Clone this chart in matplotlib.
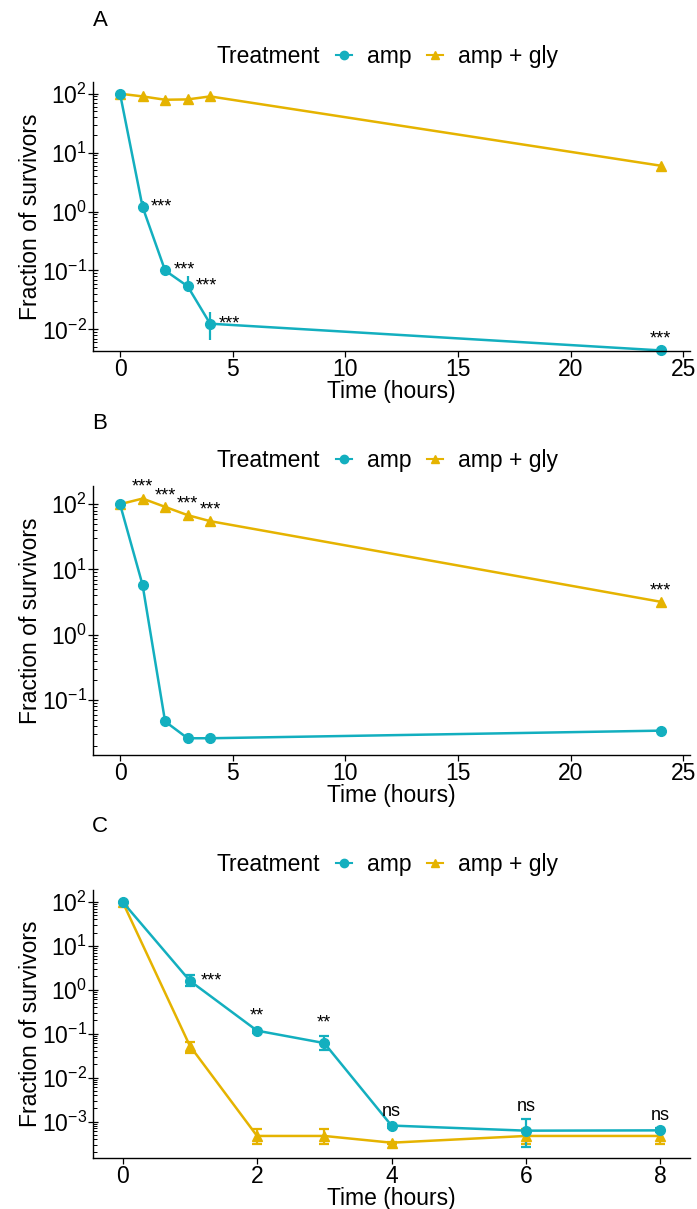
import matplotlib
matplotlib.use("Agg")
import matplotlib.pyplot as plt
from matplotlib.lines import Line2D
from matplotlib.ticker import LogLocator, LogFormatterSciNotation, NullFormatter

plt.rcParams['font.family'] = ['Liberation Sans', 'DejaVu Sans']
plt.rcParams['mathtext.fontset'] = 'custom'
plt.rcParams['mathtext.rm'] = 'Liberation Sans'
plt.rcParams['mathtext.it'] = 'Liberation Sans'

TEAL = "#13AFBF"
GOLD = "#E5B300"

# --------------------------------------------
# Panel A data
# --------------------------------------------
time_a = [0, 1, 2, 3, 4, 24]
amp_a = [100, 1.2, 0.10, 0.054, 0.0125, 0.0044]
amp_a_lo = [100, 0.96, 0.085, 0.044, 0.0065, 0.0044]
amp_a_hi = [100, 1.5, 0.12, 0.081, 0.020, 0.0044]
gly_a = [100, 90, 79, 80, 90, 6.0]
gly_a_lo = [95, 86, 74, 76, 86, 5.4]
gly_a_hi = [105, 94, 84, 84, 94, 6.6]
sig_a = ["", "***", "***", "***", "***", "***"]

# --------------------------------------------
# Panel B data
# --------------------------------------------
time_b = [0, 1, 2, 3, 4, 24]
amp_b = [100, 5.8, 0.047, 0.026, 0.026, 0.034]
gly_b = [100, 122, 91, 68, 55, 3.2]
sig_b = ["", "***", "***", "***", "***", "***"]

# --------------------------------------------
# Panel C data
# --------------------------------------------
time_c = [0, 1, 2, 3, 4, 6, 8]
amp_c = [100, 1.6, 0.117, 0.061, 8.1e-4, 6.2e-4, 6.3e-4]
amp_c_lo = [100, 1.23, 0.105, 0.042, 7.0e-4, 2.7e-4, 5.8e-4]
amp_c_hi = [100, 2.2, 0.13, 0.09, 9.0e-4, 1.13e-3, 7.0e-4]
gly_c = [100, 0.053, 4.7e-4, 4.7e-4, 3.3e-4, 4.7e-4, 4.7e-4]
gly_c_lo = [100, 0.037, 3.1e-4, 3.1e-4, 3.1e-4, 3.1e-4, 3.1e-4]
gly_c_hi = [100, 0.065, 6.6e-4, 6.6e-4, 3.5e-4, 6.6e-4, 6.6e-4]
sig_c = ["", "***", "**", "**", "ns", "ns", "ns"]


def style_axes(ax, xlim, ylim, xticks):
    ax.set_yscale('log')
    ax.set_xlim(*xlim)
    ax.set_ylim(*ylim)
    ax.set_xticks(xticks)
    ax.yaxis.set_major_locator(LogLocator(base=10, numticks=20))
    ax.yaxis.set_major_formatter(LogFormatterSciNotation())
    ax.yaxis.set_minor_locator(LogLocator(base=10, subs=range(2, 10), numticks=20))
    ax.yaxis.set_minor_formatter(NullFormatter())
    for side in ['top', 'right']:
        ax.spines[side].set_visible(False)
    for side in ['left', 'bottom']:
        ax.spines[side].set_linewidth(1.0)
    ax.tick_params(axis='both', which='major', labelsize=16.5, length=4, width=0.9, direction='out', pad=1)
    ax.tick_params(axis='y', which='major', direction='inout', length=7)
    ax.tick_params(axis='y', which='minor', direction='in', length=3, width=0.7)
    ax.set_xlabel("Time (hours)", fontsize=16.5, labelpad=-1)
    ax.set_ylabel("Fraction of survivors", fontsize=16.5, labelpad=0)


def add_legend(ax):
    handles = [
        Line2D([], [], linestyle='none', marker=None),
        Line2D([0], [0], color=TEAL, marker='o', markersize=6, lw=1.5),
        Line2D([0], [0], color=GOLD, marker='^', markersize=6, lw=1.5),
    ]
    labels = ["Treatment", "amp", "amp + gly"]
    ax.legend(handles, labels, ncol=3, loc='lower center', bbox_to_anchor=(0.467, 1.0),
              frameon=False, fontsize=16.5, handlelength=0.7, handletextpad=0.65,
              columnspacing=0.7, borderpad=0.1)


def draw_series(ax, x, y, lo, hi, color, marker, capsize):
    yerr = None
    if lo is not None:
        yerr = [[v - l for v, l in zip(y, lo)], [h - v for v, h in zip(y, hi)]]
    ax.errorbar(x, y, yerr=yerr, color=color, marker=marker, markersize=7,
                lw=1.8, elinewidth=1.6, capsize=capsize, capthick=1.6, clip_on=False)


fig = plt.figure(figsize=(6.97, 12.09), dpi=100)
W, H = 697, 1209


def make_axes(top, bottom):
    return fig.add_axes([93 / W, (H - bottom) / H, (690 - 93) / W, (bottom - top) / H])


# Panel A
ax_a = make_axes(82, 351)
draw_series(ax_a, time_a, gly_a, gly_a_lo, gly_a_hi, GOLD, '^', 0)
draw_series(ax_a, time_a, amp_a, amp_a_lo, amp_a_hi, TEAL, 'o', 0)
style_axes(ax_a, (-1.2, 25.3), (4.3e-3, 158), [0, 5, 10, 15, 20, 25])
for x, y, s in zip(time_a, amp_a, sig_a):
    if not s:
        continue
    if x == 24:
        ax_a.annotate(s, (x, y), xytext=(0, 8), textcoords='offset points',
                      ha='center', va='center', fontsize=13)
    else:
        ax_a.annotate(s, (x, y), xytext=(6, 0), textcoords='offset points',
                      ha='left', va='center', fontsize=13)
add_legend(ax_a)
fig.text(100 / W, 1 - 20 / H, "A", fontsize=16, ha='center', va='center')

# Panel B
ax_b = make_axes(486, 755)
draw_series(ax_b, time_b, gly_b, None, None, GOLD, '^', 0)
draw_series(ax_b, time_b, amp_b, None, None, TEAL, 'o', 0)
style_axes(ax_b, (-1.2, 25.3), (0.0144, 190), [0, 5, 10, 15, 20, 25])
for x, y, s in zip(time_b, gly_b, sig_b):
    if s:
        ax_b.annotate(s, (x, y), xytext=(0, 8), textcoords='offset points',
                      ha='center', va='center', fontsize=13)
add_legend(ax_b)
fig.text(100 / W, 1 - 423 / H, "B", fontsize=16, ha='center', va='center')

# Panel C
ax_c = make_axes(890, 1158)
draw_series(ax_c, time_c, gly_c, gly_c_lo, gly_c_hi, GOLD, '^', 3.5)
draw_series(ax_c, time_c, amp_c, amp_c_lo, amp_c_hi, TEAL, 'o', 3.5)
style_axes(ax_c, (-0.44, 8.44), (1.48e-4, 186), [0, 2, 4, 6, 8])
for x, y, h, s in zip(time_c, amp_c, amp_c_hi, sig_c):
    if not s:
        continue
    if s == "***":
        ax_c.annotate(s, (x, y), xytext=(8, 0), textcoords='offset points',
                      ha='left', va='center', fontsize=13)
    else:
        ax_c.annotate(s, (x, h), xytext=(0, 9), textcoords='offset points',
                      ha='center', va='center', fontsize=13)
add_legend(ax_c)
fig.text(100 / W, 1 - 827 / H, "C", fontsize=16, ha='center', va='center')

fig.savefig("out.png", dpi=100)
